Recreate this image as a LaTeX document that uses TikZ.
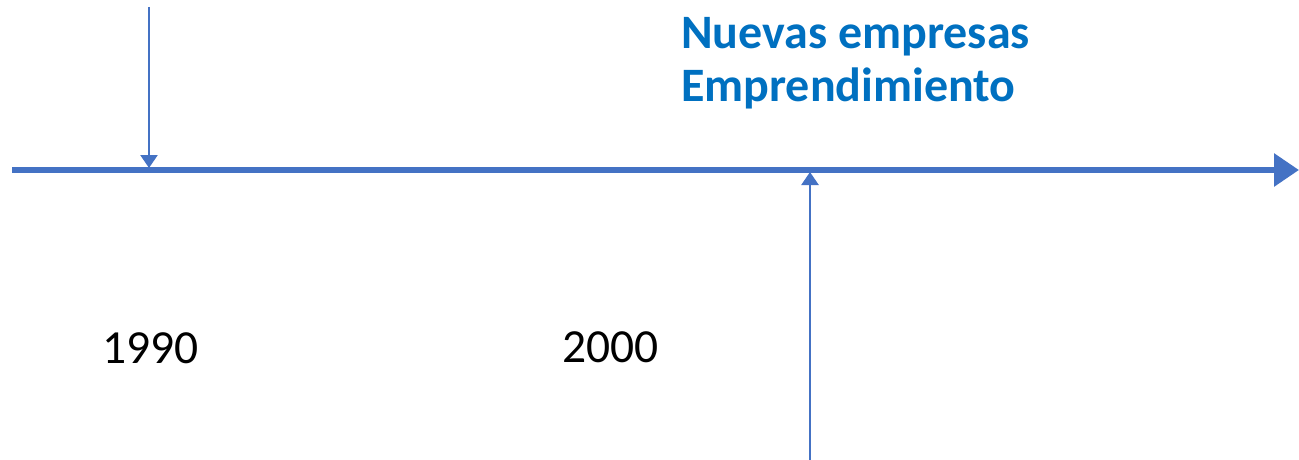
\documentclass[tikz,border=0pt]{standalone}
\usepackage{fontspec}
\setmainfont{Carlito}
\usetikzlibrary{arrows.meta}
\definecolor{lineblue}{HTML}{4472C4}
\definecolor{textblue}{HTML}{0070C0}
\tikzset{
  timeline/.style={lineblue, line width=6pt, -{Triangle[length=25pt,width=32pt]}},
  marker/.style={lineblue, line width=2.5pt, -{Triangle[length=13pt,width=17pt]}},
  yearlabel/.style={inner sep=0pt, anchor=base west, font=\fontsize{47.5}{57}\selectfont},
  eventlabel/.style={inner sep=0pt, anchor=base west, textblue,
    font=\fontsize{48}{58}\selectfont\bfseries}
}
\begin{document}
\begin{tikzpicture}[x=1pt,y=-1pt]
      \useasboundingbox (0,0) rectangle (1299,460);
      \coordinate (start) at (12,170);
      \coordinate (end) at (1299,170);
      \coordinate (top) at (149,7);
      \coordinate (hit1990) at (149,168);
      \coordinate (bottom) at (810,460);
      \coordinate (hit2000) at (810,172);
      \draw[timeline] (start) -- (end);
      \draw[marker] (top) -- (hit1990);
      \draw[marker] (bottom) -- (hit2000);
      \node[eventlabel] (nuevas) at (681,49) {Nuevas empresas};
      \node[eventlabel] (empr) at (681,102) {Emprendimiento};
      \node[yearlabel] (y1990) at (102,363) {1990};
      \node[yearlabel] (y2000) at (562,362) {2000};
    \end{tikzpicture}
\end{document}
